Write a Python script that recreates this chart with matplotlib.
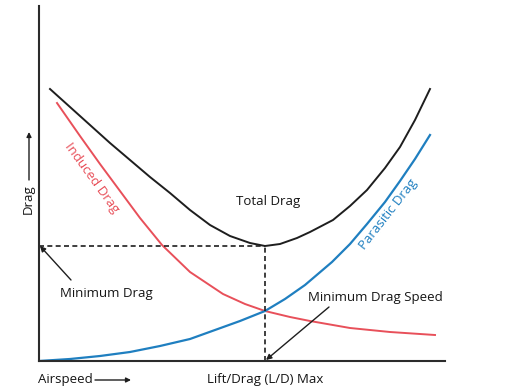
import matplotlib
matplotlib.use("Agg")
import matplotlib.pyplot as plt

plt.rcParams['font.family'] = ['Open Sans', 'DejaVu Sans']

# Airspeed and drag in arbitrary units (axis spans 0-406 airspeed, 0-355 drag)
total_x = [11, 31, 51, 71, 91, 111, 131, 151, 171, 191, 211, 226, 241, 258, 271, 294, 311, 328, 346, 361, 376, 391]
total_y = [272, 254, 236, 218, 201, 184, 168, 151, 136, 125, 118, 115, 117, 123, 129, 141, 155, 171, 193, 214, 241, 272]

induced_x = [18, 41, 61, 81, 101, 123, 151, 184, 206, 226, 251, 271, 311, 351, 396]
induced_y = [258, 225, 197, 170, 143, 116, 89, 67, 57, 50, 44, 40, 33, 29, 26]

parasitic_x = [0, 31, 61, 91, 121, 151, 176, 201, 226, 246, 266, 293, 311, 328, 346, 361, 376, 391]
parasitic_y = [0, 2, 5, 9, 15, 22, 31, 40, 50, 62, 76, 99, 117, 137, 159, 180, 202, 226]

min_drag_x = 226
min_drag_y = 115

fig = plt.figure(figsize=(5.16, 3.92), dpi=100)
ax = fig.add_axes([39/516, 31/392, 406/516, 355/392])
ax.set_xlim(0, 406)
ax.set_ylim(0, 355)
for s in ['top', 'right']:
    ax.spines[s].set_visible(False)
for s in ['left', 'bottom']:
    ax.spines[s].set_color('#2b2b2b')
    ax.spines[s].set_linewidth(1.5)
ax.set_xticks([])
ax.set_yticks([])

red = '#e8505a'
blue = '#1f7fc0'
black = '#1e1e1e'

ax.plot(total_x, total_y, color=black, lw=1.4, solid_joinstyle='round')
ax.plot(induced_x, induced_y, color=red, lw=1.4, solid_joinstyle='round')
ax.plot(parasitic_x, parasitic_y, color=blue, lw=1.6, solid_joinstyle='round')

ax.plot([0, min_drag_x], [min_drag_y, min_drag_y], color=black, lw=1.2, dashes=(3, 2))
ax.plot([min_drag_x, min_drag_x], [0, min_drag_y], color=black, lw=1.2, dashes=(3, 2))

fs = 9.5
tc = '#151515'
ax.text(229, 160, 'Total Drag', ha='center', va='center', fontsize=fs, color=tc)
ax.text(21, 68, 'Minimum Drag', ha='left', va='center', fontsize=fs, color=tc)
ax.text(269, 63, 'Minimum Drag Speed', ha='left', va='center', fontsize=fs, color=tc)
ax.text(53, 183, 'Induced Drag', ha='center', va='center', fontsize=fs, color=red,
        rotation=-54, rotation_mode='anchor')
ax.text(349, 147, 'Parasitic Drag', ha='center', va='center', fontsize=fs, color=blue,
        rotation=52, rotation_mode='anchor')

ax.annotate('', xy=(1, 115), xytext=(32, 81),
            arrowprops=dict(arrowstyle='-|>', color=black, lw=1.0, mutation_scale=8,
                            shrinkA=0, shrinkB=0))
ax.annotate('', xy=(227, 1), xytext=(290, 54),
            arrowprops=dict(arrowstyle='-|>', color=black, lw=1.0, mutation_scale=8,
                            shrinkA=0, shrinkB=0))

ax.text(-1, -19, 'Airspeed', ha='left', va='center', fontsize=fs, color=tc, clip_on=False)
ax.annotate('', xy=(92, -19), xytext=(56, -19), annotation_clip=False,
            arrowprops=dict(arrowstyle='-|>', color=black, lw=1.0, mutation_scale=7,
                            shrinkA=0, shrinkB=0))
ax.text(226, -19, 'Lift/Drag (L/D) Max', ha='center', va='center', fontsize=fs, color=tc,
        clip_on=False)

ax.text(-11, 162, 'Drag', ha='center', va='center', fontsize=fs, color=tc, rotation=90,
        clip_on=False)
ax.annotate('', xy=(-10, 229), xytext=(-10, 181), annotation_clip=False,
            arrowprops=dict(arrowstyle='-|>', color=black, lw=1.0, mutation_scale=7,
                            shrinkA=0, shrinkB=0))

fig.savefig('out.png', dpi=100)
